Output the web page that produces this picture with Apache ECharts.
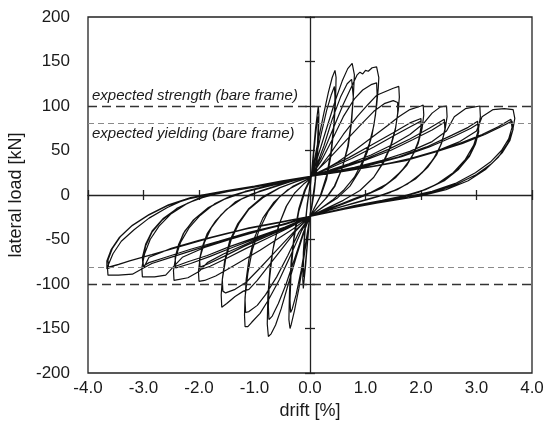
<!DOCTYPE html>
<html><head><meta charset="utf-8">
<script src="https://cdn.jsdelivr.net/npm/echarts@6/dist/echarts.min.js"></script>
<style>html,body{margin:0;padding:0;background:#fff}#c{width:548px;height:430px}</style>
</head><body><div id="c"></div>
<script>
// tick labels
const xTickLabels = ['-4.0','-3.0','-2.0','-1.0','0.0','1.0','2.0','3.0','4.0'];
const yTickLabels = ['-200','-150','-100','-50','0','50','100','150','200'];
// reference lines (kN)
const strengthLevel = [100, -100];
const yieldLevel = [81, -81];
const strengthText = 'expected strength (bare frame)';
const yieldText = 'expected yielding (bare frame)';

// hysteresis cycles: [drift %, lateral load kN]
const L1a = [[0,5],[0.05,40],[0.1,75],[0.14,95],[0.15,100],[0.16,90],[0.15,60],[0.12,30],[0.08,5],[0.03,-15],[0,-22],[-0.04,-50],[-0.08,-80],[-0.11,-98],[-0.12,-105],[-0.13,-95],[-0.12,-65],[-0.09,-35],[-0.05,-10],[0,10]];
const L1b = [[0.05,35],[0.1,68],[0.14,88],[0.15,82],[0.13,50],[0.09,15],[0.03,-12],[0,-22],[-0.05,-55],[-0.09,-82],[-0.11,-92],[-0.12,-80],[-0.1,-50],[-0.06,-18],[0,12]];
const L2a = [[0.05,30],[0.15,62],[0.25,92],[0.33,115],[0.4,132],[0.45,140],[0.47,132],[0.46,105],[0.43,75],[0.38,45],[0.3,18],[0.2,0],[0.1,-12],[0,-24],[-0.05,-45],[-0.12,-75],[-0.2,-105],[-0.28,-130],[-0.34,-146],[-0.36,-150],[-0.38,-140],[-0.37,-110],[-0.34,-75],[-0.28,-42],[-0.2,-15],[-0.1,5],[0,18]];
const L2b = [[0.1,40],[0.2,68],[0.3,95],[0.38,112],[0.44,122],[0.45,110],[0.43,80],[0.38,50],[0.3,22],[0.18,-2],[0.05,-18],[0,-24],[-0.08,-55],[-0.16,-85],[-0.25,-112],[-0.32,-128],[-0.35,-132],[-0.36,-118],[-0.34,-85],[-0.29,-50],[-0.2,-18],[-0.08,6],[0,16]];
const L3a = [[0.05,25],[0.15,45],[0.3,75],[0.45,105],[0.58,128],[0.68,142],[0.76,148],[0.79,149],[0.8,135],[0.78,110],[0.74,80],[0.68,55],[0.58,30],[0.45,10],[0.3,-3],[0.15,-13],[0,-24],[-0.1,-40],[-0.25,-70],[-0.4,-102],[-0.52,-128],[-0.62,-146],[-0.7,-156],[-0.75,-159],[-0.77,-145],[-0.76,-115],[-0.72,-82],[-0.65,-55],[-0.55,-32],[-0.42,-12],[-0.28,2],[-0.12,12],[0,18]];
const L3b = [[0.1,30],[0.25,55],[0.4,85],[0.55,110],[0.67,125],[0.75,130],[0.78,128],[0.78,110],[0.75,82],[0.69,55],[0.58,30],[0.44,10],[0.28,-4],[0.12,-15],[0,-24],[-0.12,-42],[-0.28,-72],[-0.43,-100],[-0.57,-122],[-0.68,-136],[-0.74,-140],[-0.75,-125],[-0.73,-95],[-0.67,-62],[-0.57,-35],[-0.43,-13],[-0.28,2],[-0.12,12],[0,18]];
const L4a = [[0.05,24],[0.2,42],[0.4,72],[0.6,102],[0.75,122],[0.85,135],[0.9,138],[0.95,136],[1.0,140],[1.05,139],[1.12,143],[1.2,144],[1.23,145],[1.24,132],[1.23,120],[1.2,100],[1.15,78],[1.07,58],[0.95,38],[0.8,20],[0.6,5],[0.4,-6],[0.2,-15],[0,-24],[-0.15,-40],[-0.35,-68],[-0.55,-95],[-0.75,-118],[-0.9,-133],[-1.05,-143],[-1.12,-148],[-1.17,-148],[-1.18,-135],[-1.17,-115],[-1.12,-88],[-1.04,-62],[-0.92,-40],[-0.75,-18],[-0.55,-2],[-0.3,10],[0,19]];
const L4b = [[0.2,38],[0.4,62],[0.6,88],[0.8,108],[0.95,118],[1.1,124],[1.2,126],[1.21,112],[1.18,90],[1.12,68],[1.03,48],[0.9,28],[0.72,10],[0.5,-3],[0.25,-13],[0,-24],[-0.2,-42],[-0.4,-68],[-0.6,-92],[-0.8,-112],[-0.95,-124],[-1.1,-131],[-1.16,-132],[-1.17,-118],[-1.15,-95],[-1.1,-72],[-1.0,-48],[-0.85,-26],[-0.65,-8],[-0.4,6],[-0.15,14],[0,19]];
const L5a = [[0.1,25],[0.35,45],[0.6,68],[0.85,88],[1.05,102],[1.2,112],[1.35,116],[1.5,120],[1.6,122],[1.61,110],[1.59,95],[1.54,75],[1.45,55],[1.32,37],[1.15,20],[0.9,5],[0.6,-6],[0.3,-15],[0,-24],[-0.25,-40],[-0.5,-60],[-0.75,-80],[-0.95,-96],[-1.1,-106],[-1.2,-108],[-1.35,-114],[-1.5,-122],[-1.59,-126],[-1.6,-112],[-1.58,-95],[-1.52,-72],[-1.42,-50],[-1.28,-32],[-1.1,-16],[-0.85,-3],[-0.55,8],[-0.25,15],[0,20]];
const L5b = [[0.3,38],[0.6,58],[0.9,78],[1.15,94],[1.35,103],[1.5,106],[1.58,104],[1.58,92],[1.54,74],[1.46,55],[1.33,37],[1.15,20],[0.9,5],[0.6,-6],[0.3,-15],[0,-24],[-0.3,-42],[-0.6,-62],[-0.9,-82],[-1.15,-98],[-1.35,-106],[-1.52,-110],[-1.57,-108],[-1.58,-95],[-1.54,-75],[-1.45,-52],[-1.3,-32],[-1.1,-15],[-0.85,-2],[-0.55,8],[-0.25,15],[0,20]];
const L6a = [[0.2,26],[0.5,37],[0.8,50],[1.1,64],[1.4,78],[1.6,88],[1.8,96],[2.0,100],[2.04,101],[2.05,90],[2.02,75],[1.95,58],[1.83,42],[1.65,27],[1.4,13],[1.1,3],[0.8,-4],[0.4,-14],[0,-24],[-0.3,-38],[-0.6,-50],[-0.9,-62],[-1.2,-73],[-1.5,-84],[-1.7,-91],[-1.9,-96],[-2.0,-97],[-2.01,-86],[-1.98,-70],[-1.9,-53],[-1.78,-37],[-1.6,-22],[-1.35,-8],[-1.05,1],[-0.7,8],[-0.35,15],[0,21]];
const L6b = [[0.3,30],[0.7,42],[1.1,56],[1.5,70],[1.8,81],[2.0,86],[2.0,76],[1.96,62],[1.88,48],[1.74,33],[1.55,20],[1.3,8],[1.0,0],[0.6,-9],[0.3,-16],[0,-24],[-0.35,-36],[-0.75,-48],[-1.15,-60],[-1.5,-71],[-1.8,-80],[-1.98,-84],[-1.99,-74],[-1.95,-60],[-1.86,-45],[-1.72,-31],[-1.52,-17],[-1.25,-5],[-0.95,3],[-0.6,10],[-0.3,16],[0,21]];
const L6c = [[0.35,30],[0.75,41],[1.15,54],[1.55,68],[1.85,78],[2.0,83],[2.0,73],[1.95,60],[1.86,46],[1.72,32],[1.52,19],[1.27,7],[0.97,-1],[0.6,-10],[0.3,-17],[0,-24],[-0.35,-35],[-0.8,-47],[-1.2,-58],[-1.55,-69],[-1.82,-77],[-1.98,-81],[-1.99,-72],[-1.94,-58],[-1.85,-43],[-1.7,-29],[-1.5,-16],[-1.22,-4],[-0.92,4],[-0.58,11],[-0.28,17],[0,21]];
const L7a = [[0.3,27],[0.7,35],[1.1,45],[1.5,57],[1.8,68],[2.04,80],[2.2,92],[2.35,99],[2.46,100],[2.47,88],[2.43,72],[2.35,55],[2.22,40],[2.02,25],[1.75,12],[1.45,3],[1.1,-4],[0.7,-11],[0.35,-17],[0,-24],[-0.35,-35],[-0.75,-44],[-1.15,-55],[-1.55,-66],[-1.85,-76],[-2.0,-86],[-2.2,-93],[-2.45,-96],[-2.46,-85],[-2.42,-70],[-2.33,-53],[-2.18,-37],[-1.98,-23],[-1.72,-10],[-1.42,-1],[-1.05,6],[-0.65,12],[-0.3,17],[0,21]];
const L7b = [[0.4,28],[0.9,38],[1.4,51],[1.8,63],[2.15,75],[2.42,85],[2.43,74],[2.38,60],[2.28,45],[2.12,31],[1.9,18],[1.6,7],[1.25,-1],[0.85,-8],[0.4,-16],[0,-24],[-0.4,-36],[-0.9,-47],[-1.4,-59],[-1.8,-69],[-2.15,-77],[-2.42,-82],[-2.43,-72],[-2.38,-58],[-2.28,-43],[-2.1,-28],[-1.85,-15],[-1.55,-5],[-1.2,3],[-0.8,9],[-0.4,15],[0,21]];
const L7c = [[0.45,28],[0.95,38],[1.45,50],[1.85,62],[2.2,73],[2.43,82],[2.43,72],[2.37,58],[2.26,44],[2.1,30],[1.87,17],[1.57,6],[1.22,-2],[0.82,-9],[0.4,-16],[0,-24],[-0.45,-36],[-0.95,-47],[-1.45,-58],[-1.85,-68],[-2.2,-75],[-2.42,-80],[-2.43,-70],[-2.37,-56],[-2.26,-41],[-2.08,-27],[-1.83,-14],[-1.52,-4],[-1.17,4],[-0.78,10],[-0.38,16],[0,21]];
const L8a = [[0.3,25],[0.8,31],[1.3,39],[1.8,49],[2.2,60],[2.46,72],[2.6,88],[2.8,97],[3.06,100],[3.07,88],[3.03,72],[2.95,56],[2.8,40],[2.58,25],[2.28,12],[1.95,3],[1.55,-4],[1.1,-10],[0.6,-16],[0,-24],[-0.4,-32],[-0.9,-40],[-1.4,-49],[-1.9,-59],[-2.3,-70],[-2.45,-80],[-2.6,-90],[-2.8,-92],[-3.02,-92],[-3.03,-82],[-2.98,-66],[-2.88,-50],[-2.72,-35],[-2.5,-21],[-2.2,-9],[-1.85,-1],[-1.4,5],[-0.9,11],[-0.45,16],[0,21]];
const L8b = [[0.4,26],[1.0,33],[1.6,43],[2.1,54],[2.55,67],[2.85,76],[3.02,83],[3.03,73],[2.98,59],[2.88,45],[2.7,31],[2.45,18],[2.12,7],[1.75,0],[1.3,-6],[0.8,-12],[0.4,-18],[0,-24],[-0.45,-33],[-1.05,-42],[-1.6,-52],[-2.1,-62],[-2.55,-71],[-2.85,-77],[-3.0,-82],[-3.01,-72],[-2.96,-57],[-2.85,-42],[-2.66,-28],[-2.4,-15],[-2.05,-5],[-1.65,2],[-1.2,7],[-0.7,12],[-0.35,17],[0,21]];
const L8c = [[0.45,26],[1.05,33],[1.65,43],[2.15,54],[2.6,66],[2.9,75],[3.03,80],[3.04,71],[2.98,57],[2.87,43],[2.68,29],[2.42,16],[2.08,6],[1.7,-1],[1.25,-7],[0.75,-13],[0.35,-19],[0,-24],[-0.5,-33],[-1.1,-42],[-1.65,-52],[-2.15,-61],[-2.6,-70],[-2.9,-76],[-3.01,-80],[-3.02,-70],[-2.96,-55],[-2.84,-40],[-2.64,-26],[-2.37,-14],[-2.02,-4],[-1.62,3],[-1.15,8],[-0.65,13],[-0.3,18],[0,21]];
const L9a = [[0.3,24],[0.8,29],[1.3,34],[1.8,41],[2.3,50],[2.7,60],[3.0,72],[3.1,88],[3.3,96],[3.5,97],[3.66,96],[3.69,86],[3.65,72],[3.56,58],[3.4,43],[3.17,29],[2.85,16],[2.45,6],[2.0,-1],[1.5,-6],[1.0,-11],[0.5,-17],[0,-24],[-0.5,-30],[-1.0,-36],[-1.5,-43],[-2.0,-51],[-2.5,-60],[-2.9,-70],[-3.0,-82],[-3.2,-89],[-3.45,-90],[-3.64,-90],[-3.65,-81],[-3.55,-66],[-3.4,-52],[-3.17,-39],[-2.9,-26],[-2.57,-14],[-2.25,-5],[-1.95,0],[-1.5,5],[-1.0,10],[-0.5,16],[0,21]];
const L9b = [[0.5,26],[1.1,32],[1.7,39],[2.2,48],[2.7,58],[3.1,68],[3.4,77],[3.62,85],[3.64,76],[3.58,63],[3.45,50],[3.25,37],[2.98,25],[2.62,13],[2.2,4],[1.75,-2],[1.2,-8],[0.6,-15],[0,-24],[-0.5,-30],[-1.1,-37],[-1.73,-47],[-2.3,-57],[-2.8,-66],[-3.2,-73],[-3.45,-78],[-3.63,-81],[-3.64,-73],[-3.56,-60],[-3.42,-47],[-3.2,-34],[-2.9,-22],[-2.55,-11],[-2.15,-3],[-1.75,2],[-1.25,7],[-0.7,13],[-0.3,18],[0,21]];
const L9c = [[0.55,26],[1.15,32],[1.75,39],[2.25,48],[2.75,58],[3.15,68],[3.45,77],[3.64,83],[3.66,74],[3.6,61],[3.47,48],[3.27,35],[3.0,23],[2.64,12],[2.22,3],[1.78,-3],[1.22,-9],[0.62,-16],[0,-24],[-0.55,-31],[-1.15,-38],[-1.78,-48],[-2.35,-58],[-2.85,-67],[-3.25,-74],[-3.5,-79],[-3.66,-83],[-3.66,-74],[-3.58,-61],[-3.44,-48],[-3.22,-35],[-2.92,-23],[-2.57,-12],[-2.17,-4],[-1.77,1],[-1.27,6],[-0.72,12],[-0.3,18],[0,21]];

const cycles = [L1a,L1b,L2a,L2b,L3a,L3b,L4a,L4b,L5a,L5b,L6a,L6b,L6c,L7a,L7b,L7c,L8a,L8b,L8c,L9a,L9b,L9c];
const path = [].concat(...cycles);

const FONT = 'Liberation Sans, Arial, sans-serif';
const TXT = '#1a1a1a';
const chart = echarts.init(document.getElementById('c'), null, {renderer:'canvas'});

const baseX = {type:'value', min:-4, max:4, interval:1, splitLine:{show:false}};
const baseY = {type:'value', min:-200, max:200, interval:50, splitLine:{show:false}};

chart.setOption({
  animation:false,
  backgroundColor:'#fff',
  grid:{left:88, right:16, top:17, bottom:57, containLabel:false, outerBoundsMode:'none',
        show:true, borderColor:'#222', borderWidth:1.3, backgroundColor:'transparent'},
  xAxis:[
    Object.assign({}, baseX, {position:'bottom', axisLine:{show:false, onZero:false}, axisTick:{show:false},
      name:'drift [%]', nameLocation:'middle', nameGap:22,
      nameTextStyle:{fontFamily:FONT, fontSize:18, color:TXT},
      axisLabel:{margin:7, fontFamily:FONT, fontSize:17, color:TXT,
        formatter:function(v){return xTickLabels[Math.round(v+4)];}}}),
    Object.assign({}, baseX, {position:'bottom', axisLine:{show:true, onZero:true, onZeroAxisIndex:0, lineStyle:{color:'#222', width:1.3}},
      axisTick:{show:true, inside:true, length:5, lineStyle:{color:'#222', width:1.3}}, axisLabel:{show:false}}),
    Object.assign({}, baseX, {position:'top', axisLine:{show:false, onZero:true, onZeroAxisIndex:0},
      axisTick:{show:true, inside:true, length:5, lineStyle:{color:'#222', width:1.3}}, axisLabel:{show:false}})
  ],
  yAxis:[
    Object.assign({}, baseY, {position:'left', axisLine:{show:false, onZero:false}, axisTick:{show:false},
      name:'lateral load [kN]', nameLocation:'middle', nameGap:62,
      nameTextStyle:{fontFamily:FONT, fontSize:18, color:TXT},
      axisLabel:{margin:18, fontFamily:FONT, fontSize:17, color:TXT,
        formatter:function(v){return yTickLabels[Math.round((v+200)/50)];}}}),
    Object.assign({}, baseY, {position:'left', axisLine:{show:true, onZero:true, onZeroAxisIndex:0, lineStyle:{color:'#222', width:1.3}},
      axisTick:{show:true, inside:true, length:5, lineStyle:{color:'#222', width:1.3}}, axisLabel:{show:false}}),
    Object.assign({}, baseY, {position:'right', axisLine:{show:false, onZero:true, onZeroAxisIndex:0},
      axisTick:{show:true, inside:true, length:5, lineStyle:{color:'#222', width:1.3}}, axisLabel:{show:false}})
  ],
  series:[{
    type:'line', xAxisIndex:0, yAxisIndex:0, data:path, showSymbol:false, symbol:'none',
    lineStyle:{color:'#111', width:1.2}, z:3,
    markLine:{
      silent:true, symbol:['none','none'], animation:false,
      data:[
        {yAxis:strengthLevel[0], lineStyle:{color:'#333', type:[9,5], width:1.4},
          label:{show:true, position:'insideStartTop', formatter:strengthText, distance:[4,3],
            fontFamily:FONT, fontStyle:'italic', fontSize:15, color:TXT}},
        {yAxis:strengthLevel[1], lineStyle:{color:'#333', type:[9,5], width:1.4}, label:{show:false}},
        {yAxis:yieldLevel[0], lineStyle:{color:'#8a8a8a', type:[6,4], width:1},
          label:{show:true, position:'insideStartBottom', formatter:yieldText, distance:[4,3],
            fontFamily:FONT, fontStyle:'italic', fontSize:15, color:TXT}},
        {yAxis:yieldLevel[1], lineStyle:{color:'#8a8a8a', type:[6,4], width:1}, label:{show:false}}
      ]
    }
  }]
});
</script></body></html>
